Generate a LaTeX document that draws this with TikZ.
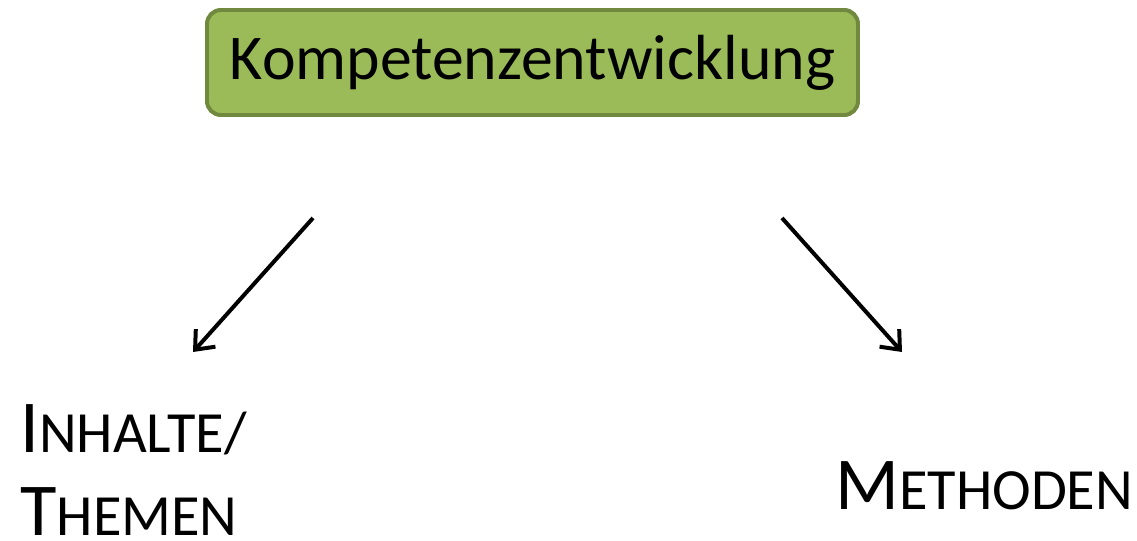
\documentclass[tikz,border=0pt]{standalone}
\usepackage{fontspec}
\setmainfont{Carlito}
\usepackage{tikz}
\usetikzlibrary{arrows.meta}

\definecolor{kompfill}{HTML}{9BBB59}
\definecolor{kompdraw}{HTML}{71893F}

% fake small caps, first letter big, rest smaller
\newcommand{\bigsc}[2]{{\fontsize{42.5}{50}\selectfont #1}{\fontsize{33.2}{40}\selectfont #2}}

\begin{document}
\begin{tikzpicture}[x=0.02cm,y=-0.02cm]
    \tikzstyle{every node}+=[inner sep=0pt]
    \tikzstyle{kompbox}=[draw=kompdraw, fill=kompfill, line width=4*0.5669pt, rounded corners=14*0.5669pt, minimum width=651*0.02cm, minimum height=105*0.02cm, font=\fontsize{36.3}{44}\selectfont]
    \tikzstyle{pfeil}=[line width=4*0.5669pt, -{Straight Barb[length=9pt,width=15pt]}]
    \useasboundingbox (0,0) rectangle (1137,541);
    \node [kompbox] (komp) at (532.5,62.5) {Kompetenzentwicklung};
    \node [anchor=base west] (inhalte) at (20,452) {\bigsc{I}{NHALTE/}};
    \node [anchor=base west] (themen) at (20,535) {\bigsc{T}{HEMEN}};
    \node [anchor=base west] (methoden) at (835,509) {\bigsc{M}{ETHODEN}};
    \coordinate (links1) at (313,218);
    \coordinate (links2) at (193,352);
    \coordinate (rechts1) at (782,218);
    \coordinate (rechts2) at (902,352);
    \draw [pfeil] (links1) -- (links2);
    \draw [pfeil] (rechts1) -- (rechts2);
\end{tikzpicture}
\end{document}
